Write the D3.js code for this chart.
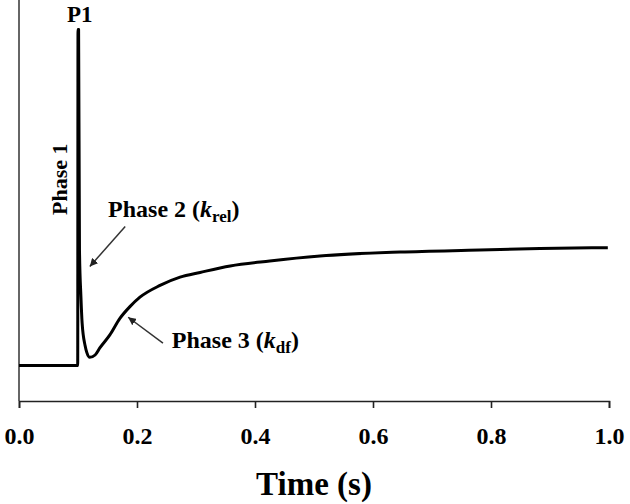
<!DOCTYPE html>
<html>
<head>
<meta charset="utf-8">
<script src="https://cdn.jsdelivr.net/npm/d3@7"></script>
<style>
  body { margin: 0; background: #fff; }
  text { font-family: "Liberation Serif", "Times New Roman", serif; font-weight: bold; fill: #000; }
</style>
</head>
<body>
<div id="chart"></div>
<script>
// data (time in s, force in relative units)
var time  = [0.000, 0.050, 0.0995, 0.1000, 0.1010, 0.1025, 0.1050, 0.1070, 0.1120, 0.1150, 0.1200, 0.1290, 0.1370, 0.1540, 0.1710, 0.1880, 0.2050, 0.2390, 0.2730, 0.3070, 0.3580, 0.4250, 0.5100, 0.6460, 0.7810, 0.8830, 0.9980];
var force = [0.00,  0.00,  0.00,   2.85,   2.85,   0.98,   0.58,   0.36,   0.17,   0.11,   0.07,   0.09,   0.15,   0.26,   0.40,   0.50,   0.58,   0.68,   0.75,   0.79,   0.845,  0.887,  0.929,  0.963,  0.980,  0.993,  1.00];
var xTicks = [0, 0.2, 0.4, 0.6, 0.8, 1.0];

var w = 630, h = 504;
var m = {top: 0, left: 19, right: 21, bottom: 103};

var svg = d3.select("#chart").append("svg")
    .attr("width", w)
    .attr("height", h);

var x = d3.scaleLinear().domain([0, 1]).range([m.left, w - m.right]);
var y = d3.scaleLinear().domain([-0.3, 3.1]).range([h - m.bottom, m.top]);

// x axis
var xAxis = svg.append("g")
    .attr("transform", "translate(0," + y(-0.3) + ")")
    .call(d3.axisBottom(x).tickValues(xTicks).tickFormat(d3.format(".1f"))
      .tickSize(7).tickSizeOuter(7).tickPadding(19));
xAxis.selectAll("path, line").attr("stroke", "#222").attr("stroke-width", 1.6);
xAxis.selectAll("text").style("font-size", "24px").attr("fill", "#000")
    .style("font-family", '"Liberation Serif", serif').style("font-weight", "bold");

// y axis (plain line, no ticks)
svg.append("line")
    .attr("x1", x(0)).attr("x2", x(0))
    .attr("y1", y(3.1)).attr("y2", y(-0.3))
    .attr("stroke", "#333").attr("stroke-width", 1.5);

// trace
var line = d3.line()
    .x(function(d, i) { return x(time[i]); })
    .y(function(d) { return y(d); })
    .curve(d3.curveMonotoneX);

svg.append("path")
    .datum(force)
    .attr("d", line)
    .attr("fill", "none")
    .attr("stroke", "#000")
    .attr("stroke-width", 3)
    .attr("stroke-linejoin", "round");

// x label
svg.append("text")
    .attr("x", (x(0) + x(1)) / 2)
    .attr("y", 495)
    .attr("text-anchor", "middle")
    .style("font-size", "33px")
    .text("Time (s)");

// annotations
svg.append("text")
    .attr("x", x(0.103)).attr("y", y(2.91))
    .attr("text-anchor", "middle")
    .style("font-size", "23px")
    .text("P1");

svg.append("text")
    .attr("transform", "translate(" + x(0.082) + "," + y(1.58) + ") rotate(-90)")
    .attr("text-anchor", "middle")
    .style("font-size", "22px")
    .text("Phase 1");

var defs = svg.append("defs");
defs.append("marker")
    .attr("id", "head")
    .attr("viewBox", "0 0 10 10")
    .attr("refX", 10).attr("refY", 5)
    .attr("markerWidth", 8).attr("markerHeight", 8)
    .attr("markerUnits", "userSpaceOnUse")
    .attr("orient", "auto")
  .append("path")
    .attr("d", "M0,0L10,5L0,10Z")
    .attr("fill", "#222");

function label(tx, ty, main, sub) {
  var t = svg.append("text")
      .attr("x", x(tx)).attr("y", y(ty))
      .style("font-size", "24px");
  t.append("tspan").text(main + " (");
  t.append("tspan").style("font-style", "italic").text("k");
  t.append("tspan").attr("dy", 5).style("font-size", "17px").text(sub);
  t.append("tspan").attr("dy", -5).text(")");
}

function arrow(t0, v0, t1, v1) {
  svg.append("line")
      .attr("x1", x(t0)).attr("y1", y(v0))
      .attr("x2", x(t1)).attr("y2", y(v1))
      .attr("stroke", "#333").attr("stroke-width", 1.5)
      .attr("marker-end", "url(#head)");
}

label(0.151, 1.26, "Phase 2", "rel");
arrow(0.180, 1.18, 0.120, 0.84);

label(0.259, 0.15, "Phase 3", "df");
arrow(0.244, 0.19, 0.185, 0.41);
</script>
</body>
</html>
